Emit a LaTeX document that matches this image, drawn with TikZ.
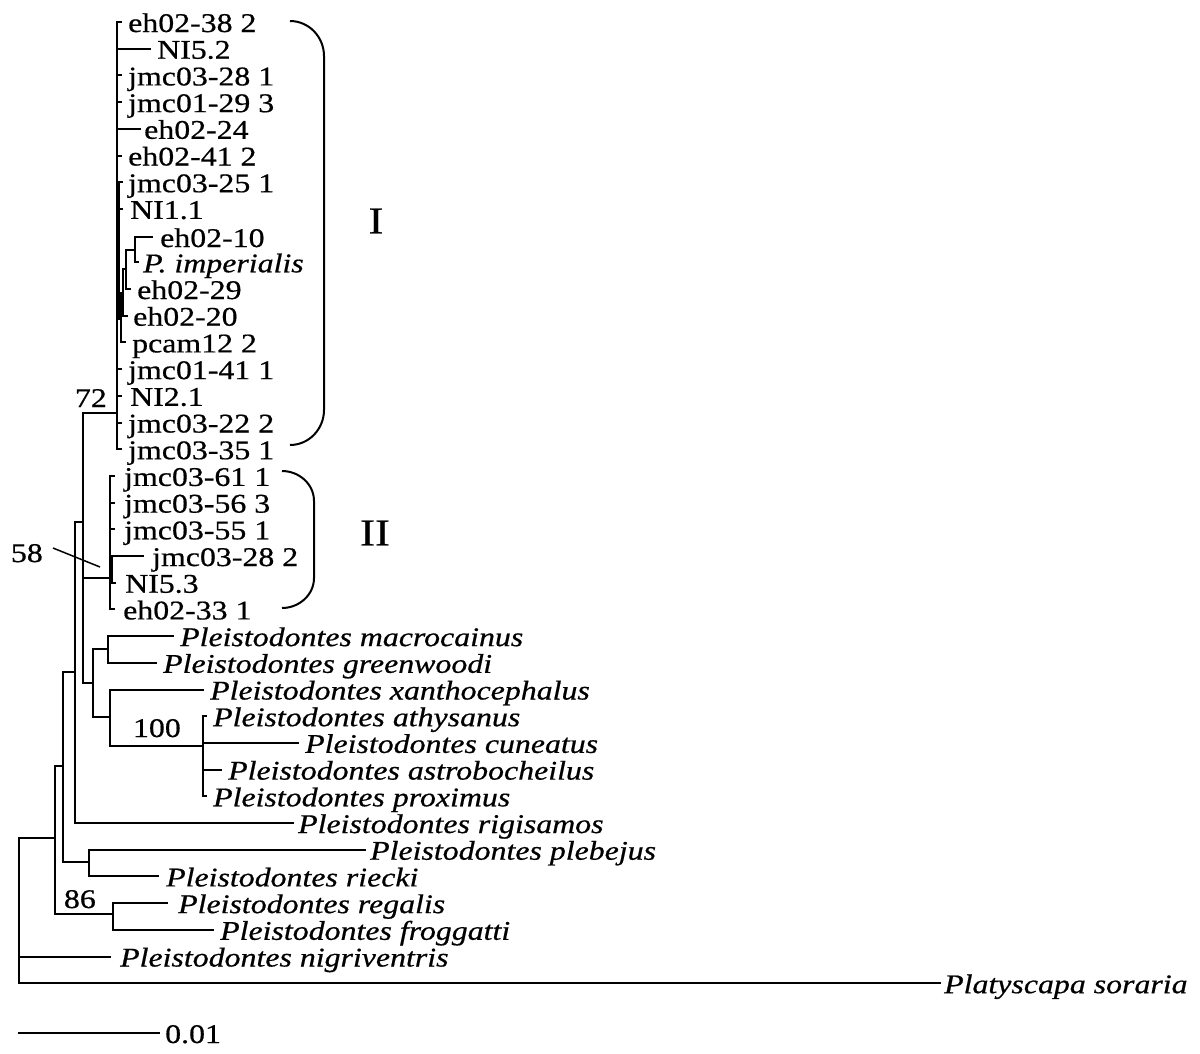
\documentclass[tikz,border=0pt]{standalone}
\usepackage{fontspec}
\setmainfont{Liberation Serif}[FakeStretch=1.18, FakeBold=0.6]
\begin{document}
\begin{tikzpicture}[x=1pt,y=-1pt,
  br/.style={line width=2pt, line cap=rect},
  tip/.style={anchor=base west, inner sep=0pt, font=\fontsize{27}{27}\selectfont},
  itip/.style={tip, font=\fontsize{27}{27}\selectfont\itshape},
  supp/.style={anchor=base east, inner sep=0pt, font=\fontsize{27}{27}\selectfont},
  clade/.style={anchor=center, inner sep=0pt, font=\fontsize{38}{38}\selectfont},
  brk/.style={line width=2pt}]
\useasboundingbox (0,0) rectangle (1200,1053);

% internal nodes
\coordinate (R) at (19,910);
\coordinate (A) at (55,838);
\coordinate (N86) at (113,914);
\coordinate (B) at (63,766);
\coordinate (C) at (89,862);
\coordinate (D) at (75,672);
\coordinate (E) at (82.7,522);
\coordinate (N72) at (117,413);
\coordinate (N58) at (110,578);
\coordinate (F) at (92.7,683);
\coordinate (G) at (108.3,649);
\coordinate (H) at (110,717);
\coordinate (N100) at (202.7,746);
\coordinate (S1) at (119,251);
\coordinate (S2) at (121,319);
\coordinate (S3) at (123,293);
\coordinate (S4) at (126,269);
\coordinate (S5) at (135,250);
\coordinate (S6) at (112,569);

% tips: name / branch end x / y / text x / text
\foreach \n/\bx/\y/\tx/\t in {
  t1/121/22/128/{eh02-38 2},
  t2/150/48.7/157/{NI5.2},
  t3/121/75.4/128/{jmc03-28 1},
  t4/121/102.1/128/{jmc01-29 3},
  t5/140/128.8/144/{eh02-24},
  t6/121/155.5/128/{eh02-41 2},
  t7/122/182.2/128/{jmc03-25 1},
  t8/122/208.9/130/{NI1.1},
  t9/152/237/160/{eh02-10},
  t10/138/262.3/143/{\textit{P. imperialis}},
  t11/130/289/137/{eh02-29},
  t12/127/315.7/133/{eh02-20},
  t13/125/342.4/132/{pcam12 2},
  t14/121/369.1/128/{jmc01-41 1},
  t15/121/395.8/130/{NI2.1},
  t16/121/422.5/128/{jmc03-22 2},
  t17/121/449.2/128/{jmc03-35 1},
  t18/114/475.9/124/{jmc03-61 1},
  t19/114/502.6/124/{jmc03-56 3},
  t20/114/529.3/124/{jmc03-55 1},
  t21/143/556/152/{jmc03-28 2},
  t22/115/582.7/125/{NI5.3},
  t23/114/609.4/123/{eh02-33 1}}{
  \coordinate (b\n) at (\bx,\y);
  \node[tip] (\n) at (\tx,\y+10) {\t};
}
\foreach \n/\bx/\y/\tx/\t in {
  t24/172.7/636.1/180/{Pleistodontes macrocainus},
  t25/156/662.8/163/{Pleistodontes greenwoodi},
  t26/202.7/689.5/210/{Pleistodontes xanthocephalus},
  t27/206/716.2/213/{Pleistodontes athysanus},
  t28/297.7/742.9/305/{Pleistodontes cuneatus},
  t29/220.7/769.6/228/{Pleistodontes astrobocheilus},
  t30/206/796.3/213/{Pleistodontes proximus},
  t31/293/823/298/{Pleistodontes rigisamos},
  t32/365/849.7/370/{Pleistodontes plebejus},
  t33/158/876.4/166/{Pleistodontes riecki},
  t34/167/903.1/178/{Pleistodontes regalis},
  t35/213/929.8/220/{Pleistodontes froggatti},
  t36/110/956.5/120/{Pleistodontes nigriventris},
  t37/940/983.2/944/{Platyscapa soraria}}{
  \coordinate (b\n) at (\bx,\y);
  \node[itip] (\n) at (\tx,\y+10) {\t};
}

% branches
\foreach \p/\c in {R/A, R/bt36, R/bt37, A/B, A/N86, N86/bt34, N86/bt35,
  B/D, B/C, C/bt32, C/bt33, D/E, D/bt31, E/N72, E/N58, E/F,
  F/G, F/H, G/bt24, G/bt25, H/bt26, H/N100,
  N100/bt27, N100/bt28, N100/bt29, N100/bt30,
  N72/bt1, N72/bt2, N72/bt3, N72/bt4, N72/bt5, N72/bt6, N72/S1,
  N72/bt14, N72/bt15, N72/bt16, N72/bt17,
  S1/bt7, S1/bt8, S1/S2, S2/S3, S2/bt13, S3/S4, S3/bt12,
  S4/S5, S4/bt11, S5/bt9, S5/bt10,
  N58/bt18, N58/bt19, N58/bt20, N58/S6, N58/bt23, S6/bt21, S6/bt22}{
  \draw[br] (\p) |- (\c);
}

% support values
\node[supp] (lab72) at (107,407) {72};
\node[supp] (lab58) at (43,562) {58};
\node[supp] (lab100) at (181,737) {100};
\node[supp] (lab86) at (96,908) {86};
\coordinate (l58a) at (53,548);
\coordinate (l58b) at (100,567);
\draw[line width=1.5pt] (l58a) -- (l58b);

% clade brackets
\draw[brk] (290,21) .. controls (309,21) and (324,37) .. (324,56) -- (324,410)
  .. controls (324,429) and (309,445) .. (290,445);
\draw[brk] (282,471) .. controls (299,471) and (314,484) .. (314,501) -- (314,578)
  .. controls (314,595) and (299,608) .. (282,608);
\node[clade] (cI) at (376,221) {I};
\node[clade] (cII) at (375,533) {II};

% scale bar
\coordinate (s0) at (18,1033);
\coordinate (s1) at (160,1033);
\draw[line width=2pt] (s0) -- (s1);
\node[tip] (scale) at (165,1043) {0.01};
\end{tikzpicture}
\end{document}
